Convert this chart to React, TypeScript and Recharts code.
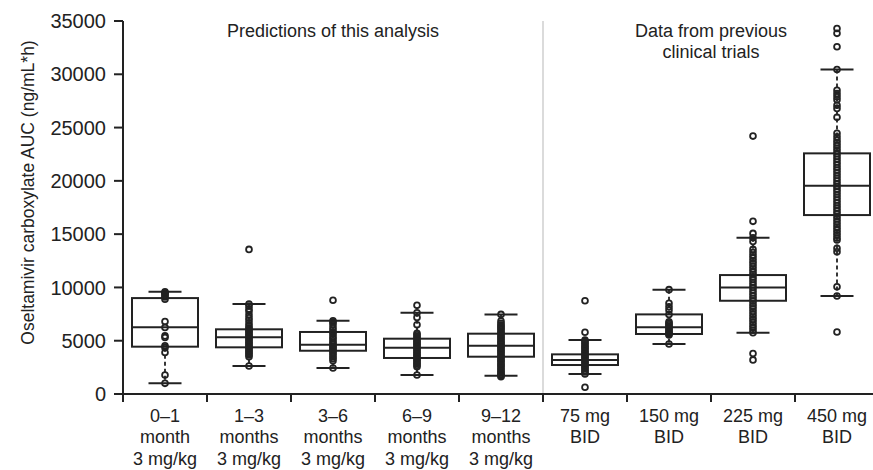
import React from 'react';
import { ComposedChart, Bar, Scatter, XAxis, YAxis, ReferenceLine, ReferenceArea } from 'recharts';

const INK = '#222';
const FONT = '"Liberation Sans", Arial, Helvetica, sans-serif';

// tick labels, one array per text line
const catLine1 = ['0–1', '1–3', '3–6', '6–9', '9–12', '75 mg', '150 mg', '225 mg', '450 mg'];
const catLine2 = ['month', 'months', 'months', 'months', 'months', 'BID', 'BID', 'BID', 'BID'];
const catLine3 = ['3 mg/kg', '3 mg/kg', '3 mg/kg', '3 mg/kg', '3 mg/kg', '', '', '', ''];

// box statistics (ng/mL*h)
const whiskerLow = [1000, 2630, 2440, 1780, 1720, 1880, 4690, 5750, 9190];
const q1 = [4440, 4380, 4060, 3380, 3500, 2720, 5630, 8750, 16790];
const median = [6260, 5320, 4630, 4350, 4530, 3190, 6260, 10000, 19540];
const q3 = [9000, 6070, 5820, 5190, 5660, 3720, 7470, 11160, 22580];
const whiskerHigh = [9600, 8440, 6880, 7630, 7470, 5070, 9790, 14660, 30450];

// individual values drawn as circles
const pts0to1 = [9600, 9500, 9400, 9250, 9100, 8900, 6800, 6250, 5450, 5300, 4520, 4350, 3900, 1780, 1000];
const pts1to3 = [13570, 8440, 8250, 7980, 7760, 7430, 7150, 6920, 6640, 6410, 6220, 6040, 5910, 5740, 5610, 5440, 5310, 5160, 4990, 4860, 4690, 4560, 4390, 4260, 4090, 3960, 3790, 3660, 3500, 2630];
const pts3to6 = [8790, 6880, 6740, 6510, 6240, 6010, 5790, 5620, 5380, 5210, 4990, 4810, 4660, 4490, 4360, 4190, 4060, 3880, 3710, 3490, 3320, 3120, 2440];
const pts6to9 = [8320, 7630, 7190, 6500, 5690, 5560, 5390, 5260, 5090, 4960, 4790, 4660, 4490, 4360, 4190, 4060, 3890, 3760, 3590, 3460, 3290, 3160, 2990, 2860, 2700, 2560, 1780];
const pts9to12 = [7470, 6850, 6640, 6460, 6340, 6170, 6050, 5870, 5720, 5590, 5410, 5270, 5140, 4960, 4820, 4690, 4510, 4390, 4220, 4070, 3940, 3770, 3610, 3490, 3320, 3170, 3040, 2870, 2720, 2590, 2420, 2280, 2110, 1970, 1840, 1720, 1630];
const pts75 = [8750, 5790, 5070, 4910, 4760, 4590, 4440, 4310, 4160, 3990, 3860, 3710, 3540, 3410, 3260, 3090, 2960, 2810, 2640, 2510, 2360, 2190, 2060, 1880, 630];
const pts150 = [9790, 8510, 8190, 7880, 7470, 6780, 6640, 6490, 6360, 6210, 6060, 5910, 5760, 5630, 5530, 4690];
const pts225 = [24200, 16200, 15070, 14660, 14320, 13570, 13280, 13010, 12760, 12490, 12240, 11990, 11720, 11480, 11230, 10970, 10740, 10480, 10230, 9990, 9740, 9480, 9230, 8990, 8740, 8480, 8230, 7990, 7740, 7480, 7230, 6990, 6740, 6480, 6230, 5990, 5750, 3800, 3200];
const pts450 = [34300, 33840, 32580, 30450, 28500, 28200, 27900, 27600, 27100, 26800, 25960, 24460, 24140, 23830, 23580, 23310, 23060, 22790, 22540, 22280, 22030, 21770, 21520, 21260, 21010, 20750, 20500, 20240, 19990, 19730, 19480, 19220, 18970, 18710, 18460, 18200, 17950, 17690, 17440, 17180, 16930, 16670, 16420, 16160, 15910, 15650, 15400, 15140, 14890, 14640, 14450, 13670, 13350, 10070, 9190, 5820];

const observed = [pts0to1, pts1to3, pts3to6, pts6to9, pts9to12, pts75, pts150, pts225, pts450];

const yTicks = [0, 5000, 10000, 15000, 20000, 25000, 30000, 35000];
const xTicks = [0, 0.5, 1, 1.5, 2, 2.5, 3, 3.5, 4, 4.5, 5, 5.5, 6, 6.5, 7, 7.5, 8, 8.5, 9];

const boxes = catLine1.map((_, i) => ({
  pos: i + 0.5,
  range: [whiskerLow[i], whiskerHigh[i]],
  lo: whiskerLow[i],
  q1: q1[i],
  med: median[i],
  q3: q3[i],
  hi: whiskerHigh[i],
}));

const dots = observed.flatMap((vals, i) => vals.map((v) => ({ pos: i + 0.5, v })));

const BoxShape = (props: any) => {
  const { x, y, width, height, payload } = props;
  const { lo, hi } = payload;
  const k = height / (hi - lo);
  const py = (v: number) => y + (hi - v) * k;
  const cx = x + width / 2;
  const cap = width / 4;
  return (
    <g>
      <line x1={cx} x2={cx} y1={py(hi)} y2={py(lo)} stroke={INK} strokeWidth={1.8} strokeDasharray="4 3" />
      <line x1={cx - cap} x2={cx + cap} y1={py(hi)} y2={py(hi)} stroke={INK} strokeWidth={2} />
      <line x1={cx - cap} x2={cx + cap} y1={py(lo)} y2={py(lo)} stroke={INK} strokeWidth={2} />
      <rect x={x} y={py(payload.q3)} width={width} height={py(payload.q1) - py(payload.q3)} fill="#fff" stroke={INK} strokeWidth={2} />
      <line x1={x} x2={x + width} y1={py(payload.med)} y2={py(payload.med)} stroke={INK} strokeWidth={2} />
    </g>
  );
};

const Dot = (props: any) => (
  <circle cx={props.cx} cy={props.cy} r={2.9} fill="none" stroke={INK} strokeWidth={1.8} />
);

const XTick = ({ x, y, payload }: any) => {
  const v = payload.value;
  if (Number.isInteger(v)) {
    return <line x1={x} x2={x} y1={y - 1} y2={y + 8} stroke={INK} strokeWidth={2} />;
  }
  const i = Math.floor(v);
  return (
    <text textAnchor="middle" fill={INK} fontSize={18} fontFamily={FONT}>
      <tspan x={x} y={y + 28}>{catLine1[i]}</tspan>
      <tspan x={x} y={y + 49}>{catLine2[i]}</tspan>
      <tspan x={x} y={y + 71}>{catLine3[i]}</tspan>
    </text>
  );
};

const GroupTitle = (lines: string[]) => (props: any) => {
  const { viewBox } = props;
  const cx = viewBox.x + viewBox.width / 2;
  return (
    <text textAnchor="middle" fill={INK} fontSize={18} fontFamily={FONT}>
      {lines.map((t, i) => (
        <tspan key={t} x={cx} y={viewBox.y + 16 + i * 21}>{t}</tspan>
      ))}
    </text>
  );
};

const YTitle = (props: any) => {
  const { viewBox } = props;
  const tx = viewBox.x - 15;
  const ty = viewBox.y + viewBox.height / 2 - 15;
  return (
    <text x={tx} y={ty} transform={`rotate(-90 ${tx} ${ty})`} textAnchor="middle" dominantBaseline="central" fill={INK} fontSize={17.5} fontFamily={FONT}>
      Oseltamivir carboxylate AUC (ng/mL*h)
    </text>
  );
};

export default function App() {
  return (
    <div style={{ position: 'fixed', left: 0, top: 0, width: 873, height: 470, background: '#fff' }}>
      <ComposedChart width={873} height={470} data={boxes} margin={{ top: 21, right: -6, bottom: 0, left: 43 }}>
        <ReferenceArea x1={0} x2={5} fill="none" stroke="none" label={GroupTitle(['Predictions of this analysis'])} />
        <ReferenceArea x1={5} x2={9} fill="none" stroke="none" label={GroupTitle(['Data from previous', 'clinical trials'])} />
        <ReferenceLine x={5} stroke="#cfcfcf" strokeWidth={1.5} />
        <XAxis
          type="number"
          dataKey="pos"
          domain={[0, 9]}
          ticks={xTicks}
          interval={0}
          tickSize={0}
          tickMargin={0}
          tickLine={false}
          tick={<XTick />}
          axisLine={{ stroke: INK, strokeWidth: 2 }}
          height={76}
        />
        <YAxis
          type="number"
          domain={[0, 35000]}
          ticks={yTicks}
          interval={0}
          width={80}
          tickSize={9}
          tickMargin={8}
          tickLine={{ stroke: INK, strokeWidth: 2 }}
          axisLine={{ stroke: INK, strokeWidth: 2 }}
          tick={{ fill: INK, fontSize: 20, fontFamily: FONT }}
          label={YTitle}
        />
        <Bar dataKey="range" barSize={66} shape={BoxShape} isAnimationActive={false} />
        <Scatter data={dots} dataKey="v" shape={Dot} isAnimationActive={false} />
      </ComposedChart>
    </div>
  );
}
